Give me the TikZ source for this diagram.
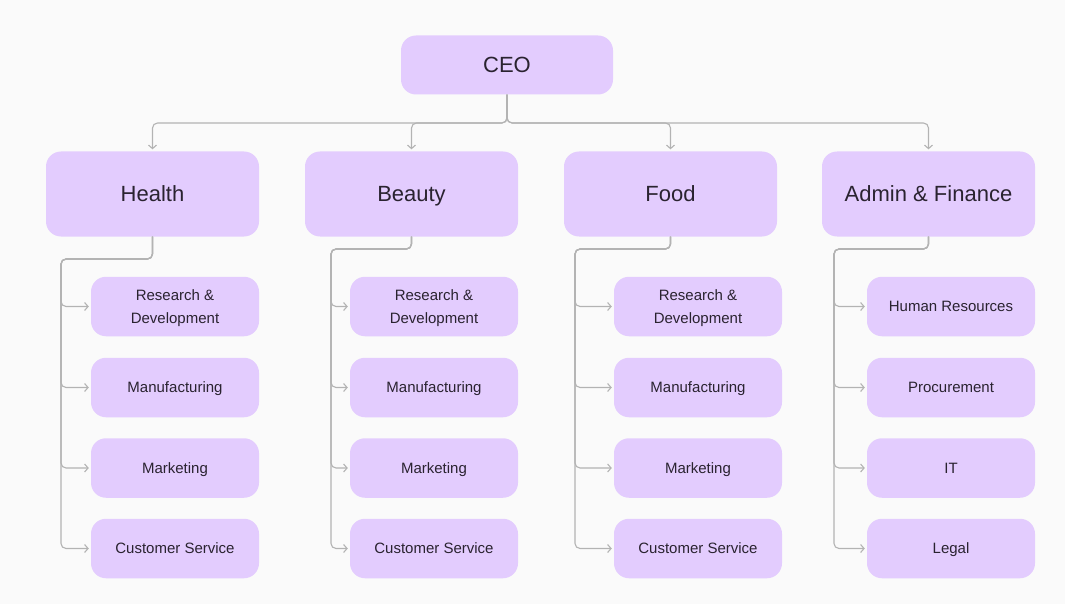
\documentclass[tikz,border=0pt]{standalone}
\usepackage{fontspec}
\setmainfont{Liberation Sans}
\usetikzlibrary{arrows.meta}

\definecolor{bggray}{HTML}{FAFAFA}
\definecolor{boxfill}{HTML}{E3CCFE}
\definecolor{ink}{HTML}{2A2330}
\definecolor{wire}{HTML}{B3B3B3}

\tikzset{
	head/.style={rectangle, rounded corners=15pt, fill=boxfill, text=ink, inner sep=0pt, text depth=0pt,
		minimum width=213pt, minimum height=85pt, font=\fontsize{22}{26}\selectfont},
	unit/.style={rectangle, rounded corners=15pt, fill=boxfill, text=ink, inner sep=0pt, align=center, text depth=0pt,
		minimum width=168pt, minimum height=59.5pt, font=\fontsize{15}{23}\selectfont},
	link/.style={draw=wire, line width=1.1pt, rounded corners=5pt,
		-{Straight Barb[length=3.5pt,width=8pt]}, shorten >=2pt},
}

\begin{document}
\begin{tikzpicture}[x=1pt, y=-1pt]
\fill[bggray] (0,0) rectangle (1065,604);
\node[head, minimum width=212pt, minimum height=59pt] (ceo) at (507,65) {\vphantom{A}CEO};
\foreach \col/\lab/\x in {health/Health/152.5, beauty/Beauty/411.5, food/Food/670.5, admin/{Admin \& Finance}/928.5}{
	\node[head] (\col) at (\x,194) {\vphantom{A}\lab};
	\draw[link] (ceo.south) -- (507,123) -| (\col.north);
}
\foreach \col/\x/\sx/\by in {health/175/61/259, beauty/434/331/249, food/698/575/249}
	\foreach \k/\lab/\y in {rd/{Research \&\\Development}/306.5, mf/Manufacturing/387.5, mk/Marketing/468, cs/Customer Service/548.5}{
		\node[unit] (\col-\k) at (\x,\y) {\vphantom{A}\lab};
		\draw[link] (\col.south) |- (\sx,\by) |- (\col-\k.west);
	}
\foreach \k/\lab/\y in {hr/Human Resources/306.5, pr/Procurement/387.5, it/IT/468, lg/Legal/548.5}{
	\node[unit] (admin-\k) at (951,\y) {\vphantom{A}\lab};
	\draw[link] (admin.south) |- (834,249) |- (admin-\k.west);
}
\end{tikzpicture}
\end{document}
